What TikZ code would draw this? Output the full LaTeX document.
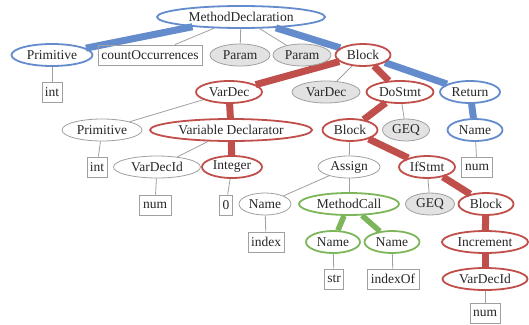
\documentclass[tikz,border=0pt]{standalone}
\usepackage{fontspec}
\setmainfont{Liberation Serif}
\usetikzlibrary{shapes.geometric,backgrounds}
\definecolor{tblue}{RGB}{100,140,205}
\definecolor{tred}{RGB}{192,78,74}
\definecolor{tgreen}{RGB}{125,182,90}
\definecolor{tgray}{RGB}{160,160,160}
\definecolor{tfill}{RGB}{226,226,226}
\begin{document}
\begin{tikzpicture}[x=1pt,y=-1pt,
  every node/.style={font=\fontsize{13.5}{15}\selectfont, text=black!85},
  el/.style={ellipse, draw=tgray, line width=0.8pt, inner sep=0pt, minimum height=22pt, minimum width=#1},
  gr/.style={el=#1, fill=tfill},
  bl/.style={el=#1, draw=tblue, line width=1.8pt},
  rd/.style={el=#1, draw=tred, line width=1.8pt},
  gn/.style={el=#1, draw=tgreen, line width=1.8pt},
  bx/.style={rectangle, draw=tgray, line width=0.8pt, inner sep=0pt, minimum height=20pt, minimum width=#1},
  ethin/.style={draw=tgray, line width=0.8pt},
  eblue/.style={draw=tblue, line width=7pt},
  ered/.style={draw=tred, line width=7pt},
  egreen/.style={draw=tgreen, line width=5.5pt}]
\useasboundingbox (0,0) rectangle (529,324);
% level 0
\node[bl=168pt] (md) at (241,17) {MethodDeclaration};
% level 1
\node[bl=81pt] (prim1) at (52,55) {Primitive};
\node[bx=104pt] (count) at (150,55) {countOccurrences};
\node[gr=60pt] (param1) at (240,55) {Param};
\node[gr=58pt] (param2) at (302,55) {Param};
\node[rd=55pt] (block1) at (363,55) {Block};
% level 2
\node[bx=20pt] (int1) at (52,92) {int};
\node[rd=66pt] (vardec) at (229,92) {VarDec};
\node[gr=68pt] (vardec2) at (326,92) {VarDec};
\node[rd=67pt] (dostmt) at (400,92) {DoStmt};
\node[bl=60pt] (return) at (470,92) {Return};
% level 3
\node[el=80pt] (prim2) at (102,130) {Primitive};
\node[rd=162pt] (vdecl) at (231,130) {Variable Declarator};
\node[rd=55pt] (block2) at (350,130) {Block};
\node[gr=47pt] (geq1) at (406,130) {GEQ};
\node[bl=55pt] (name1) at (475,130) {Name};
% level 4
\node[bx=20pt] (int2) at (97,167) {int};
\node[el=87pt] (vdid1) at (157,167) {VarDecId};
\node[rd=60pt] (integer) at (232,167) {Integer};
\node[el=62pt] (assign) at (349,167) {Assign};
\node[rd=56pt] (ifstmt) at (427,167) {IfStmt};
\node[bx=31pt] (num1) at (477,167) {num};
% level 5
\node[bx=32pt] (num2) at (155,205) {num};
\node[bx=13pt] (zero) at (226,205) {0};
\node[el=52pt] (name2) at (265,204) {Name};
\node[gn=100pt] (mcall) at (349,204) {MethodCall};
\node[gr=49pt] (geq2) at (430,204) {GEQ};
\node[rd=55pt] (block3) at (486,204) {Block};
% level 6
\node[bx=36pt] (index) at (266,242) {index};
\node[gn=54pt] (name3) at (333,242) {Name};
\node[gn=55pt] (name4) at (392,242) {Name};
\node[rd=86pt] (incr) at (485,242) {Increment};
% level 7
\node[bx=19pt] (str) at (334,279) {str};
\node[bx=52pt] (indexof) at (393,279) {indexOf};
\node[rd=85pt] (vdid2) at (485,279) {VarDecId};
% level 8
\node[bx=30pt] (num3) at (485,313) {num};

\begin{pgfonlayer}{background}
\draw[eblue] (md) -- (prim1);
\draw[ethin] (md) -- (count);
\draw[ethin] (md) -- (param1);
\draw[ethin] (md) -- (param2);
\draw[eblue] (md) -- (block1);
\draw[ethin] (prim1) -- (int1);
\draw[ered] (block1) -- (vardec);
\draw[ethin] (block1) -- (vardec2);
\draw[ered] (block1) -- (dostmt);
\draw[eblue] (block1) -- (return);
\draw[ethin] (vardec) -- (prim2);
\draw[ered] (vardec) -- (vdecl);
\draw[ered] (dostmt) -- (block2);
\draw[ethin] (dostmt) -- (geq1);
\draw[eblue] (return) -- (name1);
\draw[ethin] (prim2) -- (int2);
\draw[ethin] (vdecl) -- (vdid1);
\draw[ered] (vdecl) -- (integer);
\draw[ethin] (block2) -- (assign);
\draw[ered] (block2) -- (ifstmt);
\draw[ethin] (name1) -- (num1);
\draw[ethin] (vdid1) -- (num2);
\draw[ethin] (integer) -- (zero);
\draw[ethin] (assign) -- (name2);
\draw[ethin] (assign) -- (mcall);
\draw[ethin] (ifstmt) -- (geq2);
\draw[ered] (ifstmt) -- (block3);
\draw[ethin] (name2) -- (index);
\draw[egreen] (mcall) -- (name3);
\draw[egreen] (mcall) -- (name4);
\draw[ered] (block3) -- (incr);
\draw[ered] (incr) -- (vdid2);
\draw[ethin] (name3) -- (str);
\draw[ethin] (name4) -- (indexof);
\draw[ethin] (vdid2) -- (num3);
\end{pgfonlayer}
\end{tikzpicture}
\end{document}
